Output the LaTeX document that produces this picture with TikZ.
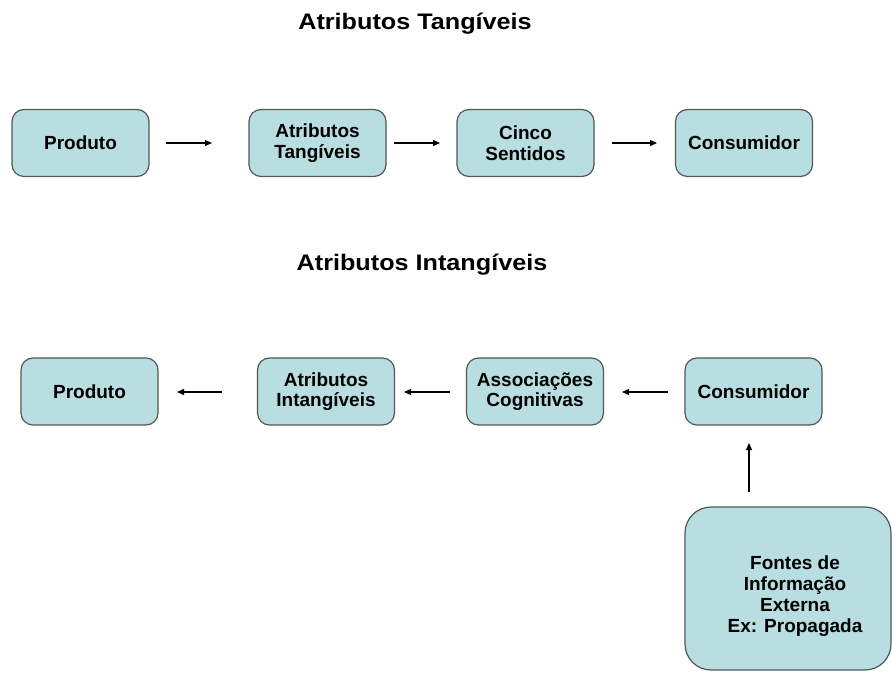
\documentclass[tikz,border=0pt]{standalone}
\usepackage{fontspec}
\setmainfont{Liberation Sans}
\usetikzlibrary{arrows.meta}
\definecolor{boxfill}{RGB}{184,222,225}
\definecolor{boxline}{RGB}{80,88,90}
\tikzset{
  box/.style={draw=boxline, fill=boxfill, line width=1.2pt, rounded corners=12pt,
    minimum width=137pt, minimum height=67pt, align=center, inner sep=2pt,
    font=\fontsize{19}{20.5}\selectfont\bfseries},
  bigbox/.style={draw=boxline, fill=boxfill, line width=1.2pt, rounded corners=26pt,
    minimum width=206pt, minimum height=163pt},
  bigtext/.style={align=center, font=\fontsize{19}{21}\selectfont\bfseries},
  title/.style={anchor=base, xscale=1.12, font=\fontsize{22.5}{26}\selectfont\bfseries},
  link/.style={-{Triangle[length=7pt,width=6pt]}, line width=1.2pt, black}
}
\begin{document}
\begin{tikzpicture}[x=1pt,y=-1pt]
  \useasboundingbox[fill=white] (0,0) rectangle (892,679);

  % tangible attributes chain
  \node[title] (t1) at (415,29.5) {Atributos Tangíveis};
  \node[box] (p1) at (80.5,143) {Produto};
  \node[box] (a1) at (317.5,143) {Atributos\\Tangíveis};
  \node[box] (c1) at (525.5,143) {Cinco\\Sentidos};
  \node[box] (k1) at (744,143) {Consumidor};

  \coordinate (e1s) at (166,143); \coordinate (e1e) at (212,143);
  \coordinate (e2s) at (394,143); \coordinate (e2e) at (440,143);
  \coordinate (e3s) at (612,143); \coordinate (e3e) at (657,143);
  \draw[link] (e1s) -- (e1e);
  \draw[link] (e2s) -- (e2e);
  \draw[link] (e3s) -- (e3e);

  % intangible attributes chain
  \node[title] (t2) at (422,271) {Atributos Intangíveis};
  \node[box] (p2) at (89.5,391.5) {Produto};
  \node[box] (a2) at (326,391.5) {Atributos\\Intangíveis};
  \node[box] (c2) at (535,391.5) {Associações\\Cognitivas};
  \node[box] (k2) at (753.5,391.5) {Consumidor};
  \node[bigbox] (f) at (788,588.5) {};
  \node[bigtext] (ft) at (795,596) {Fontes de\\Informação\\Externa\\Ex: Propagada};

  \coordinate (g1s) at (222,392); \coordinate (g1e) at (177,392);
  \coordinate (g2s) at (450,392); \coordinate (g2e) at (404,392);
  \coordinate (g3s) at (668,392); \coordinate (g3e) at (622,392);
  \coordinate (g4s) at (749,492); \coordinate (g4e) at (749,443);
  \draw[link] (g1s) -- (g1e);
  \draw[link] (g2s) -- (g2e);
  \draw[link] (g3s) -- (g3e);
  \draw[link] (g4s) -- (g4e);
\end{tikzpicture}
\end{document}
